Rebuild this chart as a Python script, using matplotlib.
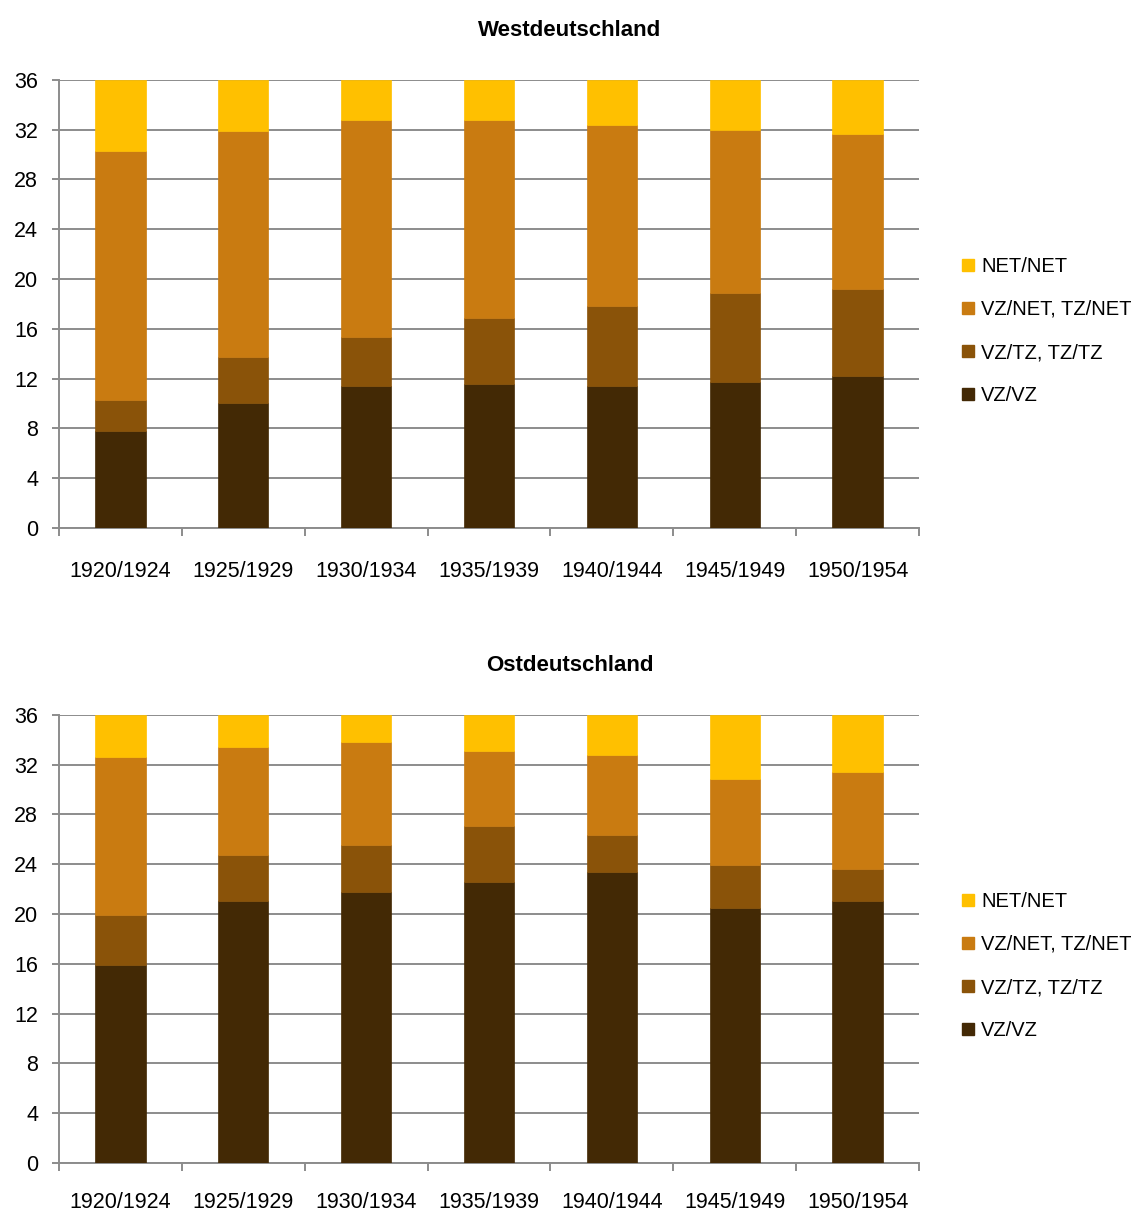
import matplotlib
matplotlib.use("Agg")
import matplotlib.pyplot as plt
from matplotlib.lines import Line2D
import numpy as np

plt.rcParams['font.family'] = ['Liberation Sans', 'DejaVu Sans']

categories = ["1920/1924", "1925/1929", "1930/1934", "1935/1939", "1940/1944", "1945/1949", "1950/1954"]
series_names = ["VZ/VZ", "VZ/TZ, TZ/TZ", "VZ/NET, TZ/NET", "NET/NET"]
colors = ["#432905", "#8A5309", "#C97B11", "#FFC000"]

west_vzvz = [7.8, 10.0, 11.4, 11.6, 11.4, 11.7, 12.2]
west_vztz = [2.5, 3.7, 3.9, 5.3, 6.4, 7.2, 7.0]
west_vznet = [20.0, 18.2, 17.5, 15.9, 14.6, 13.1, 12.4]
west_netnet = [5.7, 4.1, 3.2, 3.2, 3.6, 4.0, 4.4]

east_vzvz = [15.9, 21.0, 21.8, 22.6, 23.4, 20.5, 21.0]
east_vztz = [4.0, 3.7, 3.7, 4.5, 2.9, 3.4, 2.6]
east_vznet = [12.7, 8.7, 8.3, 6.0, 6.5, 6.9, 7.8]
east_netnet = [3.4, 2.6, 2.2, 2.9, 3.2, 5.2, 4.6]

yticks = [0, 4, 8, 12, 16, 20, 24, 28, 32, 36]
titles = ["Westdeutschland", "Ostdeutschland"]

W, H = 1135, 1214
fig = plt.figure(figsize=(W / 100, H / 100), dpi=100)

grid_col = "#8C8C8C"
fs = 15.5


def draw(ax, data, title, title_y, legend_y, xpad):
    x = np.arange(len(categories))
    bottom = np.zeros(len(categories))
    for vals, col in zip(data, colors):
        ax.bar(x, vals, width=0.41, bottom=bottom, color=col, edgecolor=col,
               linewidth=0.5, zorder=3)
        bottom += np.array(vals)
    ax.set_ylim(0, 36)
    ax.set_xlim(-0.5, len(categories) - 0.5)
    ax.set_yticks(yticks)
    ax.set_yticklabels([str(t) for t in yticks], fontsize=fs)
    ax.yaxis.grid(True, color=grid_col, linewidth=1.4, zorder=0)
    ax.set_axisbelow(True)
    ax.set_xticks(x)
    ax.set_xticklabels(categories, fontsize=fs)
    ax.set_xticks(np.arange(-0.5, len(categories)), minor=True)
    ax.tick_params(axis='x', which='major', length=0, pad=xpad)
    ax.tick_params(axis='x', which='minor', length=6, width=1.4, color=grid_col, direction='out')
    ax.tick_params(axis='y', length=5, width=1.4, color=grid_col, pad=10)
    for s in ['top', 'right']:
        ax.spines[s].set_visible(False)
    for s in ['left', 'bottom']:
        ax.spines[s].set_color(grid_col)
        ax.spines[s].set_linewidth(1.4)
    fig.text(570 / W, 1 - title_y / H, title, ha='center', va='center',
             fontsize=16, fontweight='bold')
    handles = [Line2D([], [], marker='s', linestyle='none', markersize=8,
                      markerfacecolor=c, markeredgecolor=c)
               for c in colors[::-1]]
    fig.legend(handles, series_names[::-1], loc='center left',
               bbox_to_anchor=(962 / W, 1 - legend_y / H), frameon=False,
               fontsize=14.5, handlelength=0.6, handletextpad=0.35,
               labelspacing=1.2, borderaxespad=0, borderpad=0)


left = 59 / W
width = 860 / W
height = 448.3 / H
ax1 = fig.add_axes([left, 1 - 528 / H, width, height])
ax2 = fig.add_axes([left, 1 - 1163 / H, width, height])

draw(ax1, [west_vzvz, west_vztz, west_vznet, west_netnet], titles[0], 31, 331, 24)
draw(ax2, [east_vzvz, east_vztz, east_vznet, east_netnet], titles[1], 666, 966, 21)

fig.savefig("out.png", dpi=100)
